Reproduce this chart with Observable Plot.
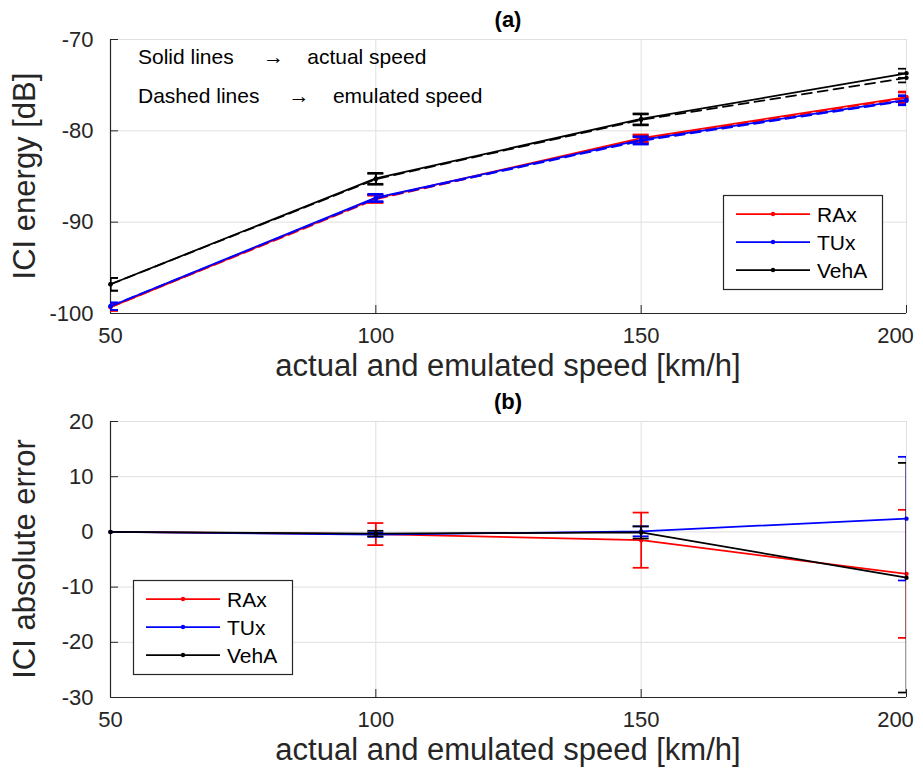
<!DOCTYPE html>
<html><head><meta charset="utf-8">
<script src="https://cdn.jsdelivr.net/npm/d3@7"></script>
<script src="https://cdn.jsdelivr.net/npm/@observablehq/plot@0.6"></script>
<style>
html,body{margin:0;padding:0;background:#fff;}
#chart{width:923px;height:773px;position:relative;font-family:"Liberation Sans",Arial,sans-serif;}
svg{display:block;}
</style></head><body><div id="chart"></div>
<script>
// ---------- data ----------
const speeds = [50, 100, 150, 200];
const seriesNames = ["RAx", "TUx", "VehA"];
const seriesColors = ["#ff0000", "#0000ff", "#000000"];

// panel (a): ICI energy [dB]
const raxActual = [-99.3, -87.4, -80.8, -76.3];
const raxActualErr = [0.4, 0.4, 0.4, 0.6];
const tuxActual = [-99.2, -87.3, -81.0, -76.6];
const tuxActualErr = [0.4, 0.4, 0.4, 0.5];
const vehaActual = [-96.8, -85.2, -78.7, -73.7];
const vehaActualErr = [0.7, 0.6, 0.6, 0.5];
const raxEmulated = [-99.3, -87.5, -80.9, -76.4];
const raxEmulatedErr = [0.4, 0.4, 0.4, 0.6];
const tuxEmulated = [-99.2, -87.4, -81.1, -76.7];
const tuxEmulatedErr = [0.4, 0.4, 0.4, 0.5];
const vehaEmulated = [-96.8, -85.3, -78.8, -74.2];
const vehaEmulatedErr = [0.7, 0.6, 0.6, 0.5];

// panel (b): ICI absolute error
const raxAbsErr = [0, -0.4, -1.5, -7.6];
const raxAbsErrBar = [0, 2.0, 5.0, 11.6];
const tuxAbsErr = [0, -0.5, 0.1, 2.4];
const tuxAbsErrBar = [0, 0.4, 0.9, 11.2];
const vehaAbsErr = [0, -0.3, -0.1, -8.3];
const vehaAbsErrBar = [0, 0.5, 1.1, 20.8];

// ticks and texts
const xTicks = [50, 100, 150, 200];
const yTicksA = [-100, -90, -80, -70];
const yTicksB = [-30, -20, -10, 0, 10, 20];
const titleA = "(a)";
const titleB = "(b)";
const xLabel = "actual and emulated speed [km/h]";
const yLabelA = "ICI energy [dB]";
const yLabelB = "ICI absolute error";
const noteLines = [
  "Solid lines\u00a0\u00a0\u00a0\u00a0 \u2192\u00a0\u00a0\u00a0 actual speed",
  "Dashed lines\u00a0\u00a0\u00a0\u00a0 \u2192\u00a0\u00a0\u00a0 emulated speed"
];

// ---------- drawing ----------
const W = 923;
const FONT = "'Liberation Sans', Arial, sans-serif";
const AX = "#262626";
const GRID = "#dfdfdf";
const LW = 1.75;

function rows(ys, es) {
  return speeds.map((x, i) => ({x, y: ys[i], lo: ys[i] - es[i], hi: ys[i] + es[i], e: es[i]}));
}

function seriesMarks(data, color, dashed) {
  const withErr = data.filter(d => d.e > 0);
  return [
    Plot.ruleX(withErr, {x: "x", y1: "lo", y2: "hi", stroke: color, strokeWidth: LW, clip: true}),
    Plot.ruleY(withErr, {y: "lo", x1: "x", x2: "x", insetLeft: -8, insetRight: -8, stroke: color, strokeWidth: LW, clip: true}),
    Plot.ruleY(withErr, {y: "hi", x1: "x", x2: "x", insetLeft: -8, insetRight: -8, stroke: color, strokeWidth: LW, clip: true}),
    Plot.line(data, {x: "x", y: "y", stroke: color, strokeWidth: LW, strokeDasharray: dashed ? "10,6" : null}),
    Plot.dot(data, {x: "x", y: "y", r: 2.2, fill: color, stroke: null})
  ];
}

function panel({height, m, yDomain, yTicks, seriesList}) {
  const plotH = height - m.top - m.bottom;
  const plotW = W - m.left - m.right;
  const fmt = d => String(d);
  const xOpts = {tickSize: 0, tickPadding: 14, tickFormat: fmt, label: null, fill: AX, fontSize: 22};
  return Plot.plot({
    width: W, height,
    marginTop: m.top, marginBottom: m.bottom, marginLeft: m.left, marginRight: m.right,
    style: {fontFamily: FONT, fontSize: "22px", color: AX, background: "#fff", overflow: "visible"},
    x: {domain: [50, 200]},
    y: {domain: yDomain},
    marks: [
      Plot.gridX(xTicks, {stroke: GRID, strokeOpacity: 1, strokeWidth: 1}),
      Plot.gridY(yTicks, {stroke: GRID, strokeOpacity: 1, strokeWidth: 1}),
      Plot.tickX(xTicks, {x: d => d, insetTop: plotH - 8, stroke: AX}),
      Plot.tickY(yTicks, {y: d => d, insetRight: plotW - 8, stroke: AX}),
      Plot.ruleY([yDomain[0]], {stroke: AX, strokeWidth: 1.2}),
      Plot.ruleX([50], {stroke: AX, strokeWidth: 1.2}),
      Plot.axisX(xTicks.slice(0, -1), xOpts),
      Plot.axisX(xTicks.slice(-1), {...xOpts, dx: -11}),
      Plot.axisY(yTicks, {tickSize: 0, tickPadding: 17, tickFormat: fmt, label: null, fill: AX, fontSize: 22}),
      ...seriesList.flatMap(s => seriesMarks(s.data, s.color, s.dashed))
    ]
  });
}

function addText(svg, {x, y, text, size, weight, anchor, rotate, fill}) {
  d3.select(svg).append("text")
    .attr("transform", `translate(${x},${y})` + (rotate ? ` rotate(${rotate})` : ""))
    .attr("text-anchor", anchor || "middle")
    .attr("font-family", FONT)
    .attr("font-size", size)
    .attr("font-weight", weight || "normal")
    .attr("fill", fill || AX)
    .style("white-space", "pre")
    .text(text);
}

function addLegend(svg, x0, y0, w, h) {
  const g = d3.select(svg).append("g").attr("class", "legend");
  g.append("rect").attr("x", x0 + 0.5).attr("y", y0 + 0.5).attr("width", w).attr("height", h)
    .attr("fill", "#fff").attr("stroke", AX).attr("stroke-width", 1.2);
  seriesNames.forEach((name, i) => {
    const cy = y0 + 19 + i * 28;
    g.append("line").attr("x1", x0 + 13).attr("x2", x0 + 87).attr("y1", cy).attr("y2", cy)
      .attr("stroke", seriesColors[i]).attr("stroke-width", LW);
    g.append("circle").attr("cx", x0 + 50).attr("cy", cy).attr("r", 2.2).attr("fill", seriesColors[i]);
    g.append("text").attr("x", x0 + 94).attr("y", cy + 7.5)
      .attr("text-anchor", "start").attr("font-family", FONT)
      .attr("font-size", 21).attr("fill", "#000").text(name);
  });
}

const seriesA = [
  {data: rows(raxActual, raxActualErr), color: seriesColors[0], dashed: false},
  {data: rows(raxEmulated, raxEmulatedErr), color: seriesColors[0], dashed: true},
  {data: rows(tuxActual, tuxActualErr), color: seriesColors[1], dashed: false},
  {data: rows(tuxEmulated, tuxEmulatedErr), color: seriesColors[1], dashed: true},
  {data: rows(vehaActual, vehaActualErr), color: seriesColors[2], dashed: false},
  {data: rows(vehaEmulated, vehaEmulatedErr), color: seriesColors[2], dashed: true}
];
const seriesB = [
  {data: rows(raxAbsErr, raxAbsErrBar), color: seriesColors[0], dashed: false},
  {data: rows(tuxAbsErr, tuxAbsErrBar), color: seriesColors[1], dashed: false},
  {data: rows(vehaAbsErr, vehaAbsErrBar), color: seriesColors[2], dashed: false}
];

const mA = {top: 39, bottom: 77, left: 110, right: 17};
const mB = {top: 31, bottom: 76, left: 110, right: 17};
const topPlot = panel({height: 390, m: mA, yDomain: [-100, -70], yTicks: yTicksA, seriesList: seriesA});
const botPlot = panel({height: 383, m: mB, yDomain: [-30, 20], yTicks: yTicksB, seriesList: seriesB});

function decorate(svg, height, m, title, yLabel) {
  const cx = m.left + (W - m.left - m.right) / 2;
  const cy = m.top + (height - m.top - m.bottom) / 2;
  addText(svg, {x: cx, y: m.top - 12, text: title, size: 22, weight: "bold", fill: "#000"});
  addText(svg, {x: cx, y: height - m.bottom + 63, text: xLabel, size: 31});
  addText(svg, {x: 35, y: cy, text: yLabel, size: 31, rotate: -90});
}
decorate(topPlot, 390, mA, titleA, yLabelA);
decorate(botPlot, 383, mB, titleB, yLabelB);
noteLines.forEach((t, i) => addText(topPlot, {x: 138, y: 64 + i * 39, text: t, size: 21, anchor: "start", fill: "#000"}));

addLegend(topPlot, 723, 195, 159, 94);
addLegend(botPlot, 133, 190, 159, 94);

const root = document.getElementById("chart");
root.appendChild(topPlot);
root.appendChild(botPlot);
</script></body></html>
